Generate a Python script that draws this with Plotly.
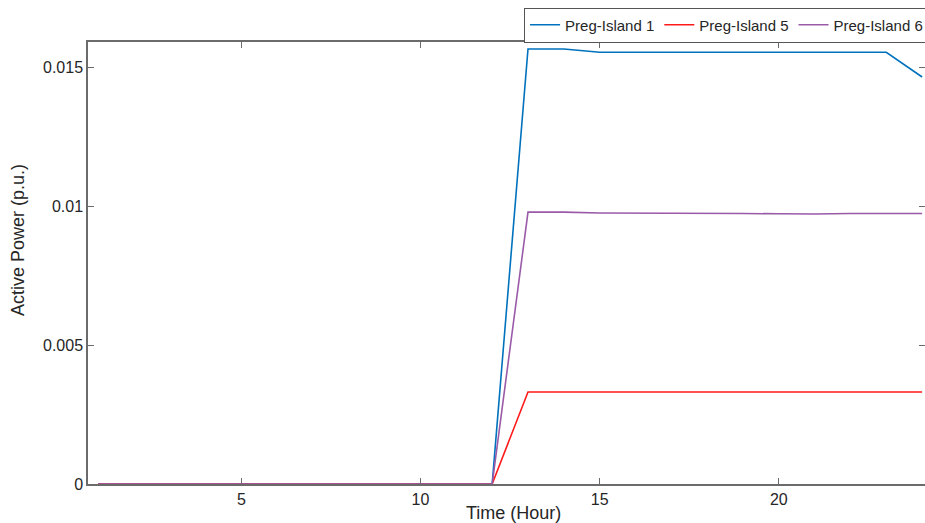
import plotly.graph_objects as go

hours = list(range(1, 25))

preg_island_1 = [0.0] * 12 + [0.01565, 0.01565, 0.01553, 0.01553, 0.01553, 0.01553,
                              0.01554, 0.01554, 0.01554, 0.01554, 0.01553, 0.01464]
preg_island_5 = [0.0] * 12 + [0.00331] * 12
preg_island_6 = [0.0] * 12 + [0.00978, 0.00978, 0.00975, 0.00975, 0.00975, 0.00974,
                              0.00973, 0.00972, 0.00971, 0.00973, 0.00974, 0.00973]

series_names = ["Preg-Island 1", "Preg-Island 5", "Preg-Island 6"]
series_colors = ["#0072BD", "#FF1A1A", "#9A5AA8"]

x_ticks = [5, 10, 15, 20]
y_ticks = [0, 0.005, 0.01, 0.015]
y_tick_labels = ["0", "0.005", "0.01", "0.015"]

font_family = "Liberation Sans, Arial, sans-serif"
axis_gray = "#6b6b6b"

fig = go.Figure()
for name, ys, color in zip(series_names, [preg_island_1, preg_island_5, preg_island_6], series_colors):
    fig.add_trace(go.Scatter(x=hours, y=ys, mode="lines", name=name,
                             line=dict(color=color, width=1.6)))

fig.update_layout(
    width=925, height=523,
    margin=dict(l=88, r=0, t=42, b=39, autoexpand=False),
    paper_bgcolor="white", plot_bgcolor="white",
    font=dict(family=font_family, size=16, color="#262626"),
    showlegend=True,
    legend=dict(orientation="h", x=0.521, xanchor="left", y=1.078, yanchor="top",
                bordercolor="#555555", borderwidth=1, bgcolor="white",
                font=dict(size=15, color="#262626"), itemwidth=30,
                tracegroupgap=0),
)

fig.update_xaxes(range=[0.72, 24.08], tickvals=x_ticks, ticktext=[str(v) for v in x_ticks],
                 ticks="inside", ticklen=6, tickcolor=axis_gray, tickwidth=1,
                 showline=True, linecolor=axis_gray, linewidth=1.5, mirror="ticks",
                 showgrid=False, zeroline=False, tickfont=dict(size=16))
fig.update_yaxes(range=[0, 0.0159], tickvals=y_ticks, ticktext=y_tick_labels,
                 ticks="inside", ticklen=6, tickcolor=axis_gray, tickwidth=1,
                 showline=True, linecolor=axis_gray, linewidth=1.5, mirror="ticks",
                 showgrid=False, zeroline=False, tickfont=dict(size=16))

fig.add_annotation(text="Time (Hour)", xref="paper", yref="paper",
                   x=(513 - 88) / 837, y=-29 / 442, xanchor="center", yanchor="middle",
                   showarrow=False, font=dict(size=18, color="#262626"))
fig.add_annotation(text="Active Power (p.u.)", xref="paper", yref="paper",
                   x=-70 / 837, y=(484 - 240) / 442, xanchor="center", yanchor="middle",
                   textangle=-90, showarrow=False, font=dict(size=18, color="#262626"))

fig.write_html("out.html")
